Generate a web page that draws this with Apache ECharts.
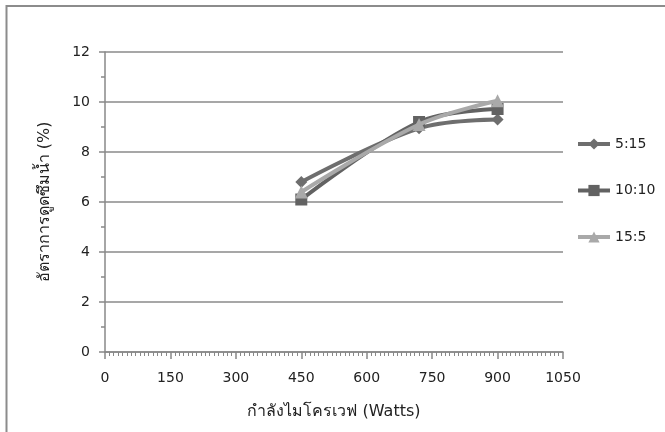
<!DOCTYPE html>
<html>
<head>
<meta charset="utf-8">
<script src="https://cdn.jsdelivr.net/npm/echarts@6/dist/echarts.min.js"></script>
<style>
  html, body { margin: 0; padding: 0; background: #fff; }
  #chart { width: 665px; height: 432px; }
</style>
</head>
<body>
<div id="chart"></div>
<script>
// Microwave power (W) and water absorption rate (%) for three mix ratios
const powerWatts = [450, 720, 900];
const ratio5to15 = [6.8, 8.95, 9.3];
const ratio10to10 = [6.1, 9.2, 9.72];
const ratio15to5 = [6.4, 9.1, 10.05];
const seriesNames = ['5:15', '10:10', '15:5'];
const xTicks = [0, 150, 300, 450, 600, 750, 900, 1050];
const yTicks = [0, 2, 4, 6, 8, 10, 12];

const font = 'Tahoma, "DejaVu Sans", "Noto Sans", sans-serif';
const colors = ['#6e6e6e', '#626262', '#a9a9a9'];
const symbols = ['diamond', 'rect', 'triangle'];
const symbolSizes = [12, 12, 13];
const values = [ratio5to15, ratio10to10, ratio15to5];

const chart = echarts.init(document.getElementById('chart'), null, { renderer: 'canvas' });

chart.setOption({
  animation: false,
  backgroundColor: '#ffffff',
  textStyle: { fontFamily: font },
  grid: { left: 105, right: 102, top: 52, bottom: 80 },
  legend: {
    orient: 'vertical',
    left: 576,
    top: 137,
    padding: 0,
    itemGap: 32.5,
    itemWidth: 32,
    itemHeight: 14,
    lineStyle: { width: 4 },
    textStyle: { fontSize: 14, color: '#222', fontFamily: font },
    data: seriesNames
  },
  xAxis: {
    type: 'value',
    min: xTicks[0],
    max: xTicks[xTicks.length - 1],
    interval: 150,
    name: 'กำลังไมโครเวฟ (Watts)',
    nameLocation: 'middle',
    nameGap: 52,
    nameTextStyle: { fontSize: 16, color: '#222', fontFamily: font },
    axisLine: { show: true, onZero: false, lineStyle: { color: '#888', width: 1.5 } },
    axisTick: { show: true, inside: false, length: 7, lineStyle: { color: '#888', width: 1.5 } },
    minorTick: { show: true, splitNumber: 15, length: 4, lineStyle: { color: '#888', width: 1 } },
    axisLabel: { fontSize: 14, color: '#222', margin: 19, fontFamily: font, formatter: v => String(v) },
    splitLine: { show: false }
  },
  yAxis: {
    type: 'value',
    min: yTicks[0],
    max: yTicks[yTicks.length - 1],
    interval: 2,
    name: 'อัตราการดูดซึมน้ำ (%)',
    nameLocation: 'middle',
    nameGap: 52,
    nameTextStyle: { fontSize: 16, color: '#222', fontFamily: font },
    axisLine: { show: true, lineStyle: { color: '#888', width: 1.5 } },
    axisTick: { show: true, inside: false, length: 6, lineStyle: { color: '#888', width: 1.5 } },
    minorTick: { show: true, splitNumber: 2, length: 4, lineStyle: { color: '#888', width: 1.5 } },
    axisLabel: { fontSize: 14, color: '#222', margin: 15, fontFamily: font, formatter: v => String(v) },
    splitLine: { show: true, lineStyle: { color: '#8a8a8a', width: 1.5 } }
  },
  series: seriesNames.map((name, i) => ({
    name: name,
    type: 'line',
    smooth: 0.35,
    data: powerWatts.map((x, j) => [x, values[i][j]]),
    symbol: symbols[i],
    symbolSize: symbolSizes[i],
    showAllSymbol: true,
    itemStyle: { color: colors[i] },
    lineStyle: { color: colors[i], width: 4 },
    z: 3 + i
  })),
  graphic: [
    {
      type: 'polyline',
      shape: { points: [[6.5, 432], [6.5, 6], [665, 6]] },
      style: { stroke: '#8c8c8c', lineWidth: 2, fill: null },
      silent: true
    }
  ]
});
</script>
</body>
</html>
